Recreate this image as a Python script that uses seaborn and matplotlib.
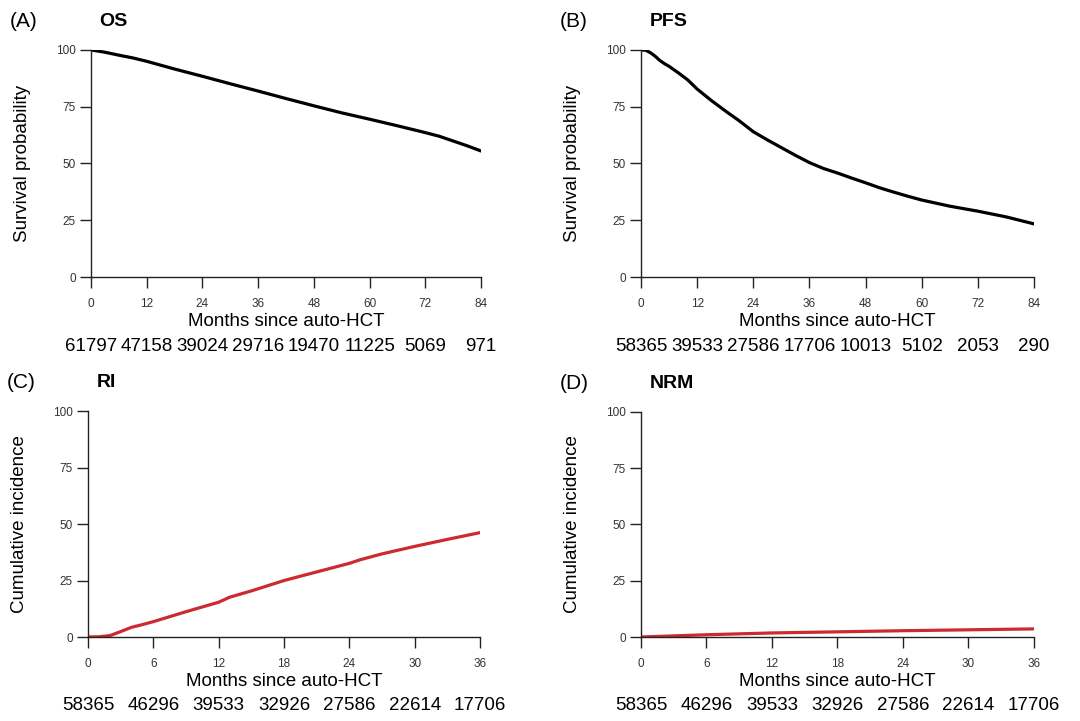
import numpy as np
import pandas as pd
import matplotlib
matplotlib.use("Agg")
import matplotlib.pyplot as plt
import seaborn as sns

sns.set_style("ticks")
plt.rcParams["font.family"] = ["Liberation Sans", "DejaVu Sans"]
plt.rcParams["text.color"] = "black"
plt.rcParams["axes.labelcolor"] = "black"

# OS / PFS (months 0-84)
os_months = [0, 3, 6, 9, 12, 18, 24, 30, 36, 42, 48, 54, 60, 66, 72, 75, 78, 81, 84]
os_surv = [100, 99.0, 97.7, 96.5, 95.0, 91.6, 88.4, 85.1, 81.9, 78.6, 75.4, 72.3, 69.5, 66.6, 63.6, 62.0, 59.9, 57.8, 55.5]
os_risk = [61797, 47158, 39024, 29716, 19470, 11225, 5069, 971]

pfs_months = [0, 1, 2, 3, 4, 5, 6, 8, 10, 12, 15, 18, 21, 24, 27, 30, 33, 36, 39, 42, 45, 48, 51, 54, 57, 60, 66, 72, 78, 84]
pfs_surv = [100, 99.9, 98.8, 97.3, 95.4, 94.0, 92.8, 89.9, 86.8, 82.8, 77.8, 73.2, 68.8, 64.0, 60.4, 57.0, 53.6, 50.4, 47.8, 45.8, 43.6, 41.5, 39.3, 37.4, 35.6, 33.9, 31.2, 29.0, 26.5, 23.4]
pfs_risk = [58365, 39533, 27586, 17706, 10013, 5102, 2053, 290]

# RI / NRM (months 0-36)
ri_months = [0, 1, 2, 3, 4, 5, 6, 9, 12, 13, 15, 18, 21, 24, 25, 27, 30, 33, 36]
ri_inc = [0, 0.1, 0.6, 2.4, 4.3, 5.5, 6.8, 11.2, 15.4, 17.6, 20.4, 25.0, 28.8, 32.6, 34.2, 36.8, 40.1, 43.2, 46.2]
nrm_months = [0, 6, 12, 18, 24, 30, 36]
nrm_inc = [0, 1.0, 1.8, 2.3, 2.8, 3.2, 3.6]
cr_risk = [58365, 46296, 39533, 32926, 27586, 22614, 17706]

fig = plt.figure(figsize=(10.8, 7.21), dpi=100)

panels = [
    ("(A)", "OS", os_months, os_surv, os_risk, 84, 12, "Survival probability", "black", [0.0843, 0.6158, 0.3611, 0.3149]),
    ("(B)", "PFS", pfs_months, pfs_surv, pfs_risk, 84, 12, "Survival probability", "black", [0.5935, 0.6158, 0.3639, 0.3149]),
    ("(C)", "RI", ri_months, ri_inc, cr_risk, 36, 6, "Cumulative incidence", "#cc2a2e", [0.0815, 0.1165, 0.3630, 0.3134]),
    ("(D)", "NRM", nrm_months, nrm_inc, cr_risk, 36, 6, "Cumulative incidence", "#cc2a2e", [0.5935, 0.1165, 0.3639, 0.3121]),
]

for tag, title, xs, ys, risk, xmax, step, ylab, col, pos in panels:
    ax = fig.add_axes(pos)
    df = pd.DataFrame({"month": xs, "value": ys})
    sns.lineplot(data=df, x="month", y="value", ax=ax, color=col, linewidth=2.3)
    ax.set_xlim(0, xmax)
    ax.set_ylim(0, 100)
    ticks = np.arange(0, xmax + 1, step)
    ax.set_xticks(ticks)
    ax.set_yticks([0, 25, 50, 75, 100])
    ax.tick_params(axis="both", labelsize=8.5, labelcolor="#333333", color="#222222",
                   length=8, width=1, direction="out", pad=3)
    ax.tick_params(axis="x", pad=7)
    for s in ["top", "right"]:
        ax.spines[s].set_visible(False)
    for s in ["left", "bottom"]:
        ax.spines[s].set_linewidth(1)
        ax.spines[s].set_color("#222222")
    ax.set_xlabel("Months since auto-HCT", fontsize=13.5, labelpad=2)
    ax.set_ylabel(ylab, fontsize=13.5, labelpad=18)
    # numbers at risk
    for t, n in zip(ticks, risk):
        ax.text(t, -30.5, str(n), transform=ax.transData, ha="center", va="center", fontsize=13.5)
    # panel tag and title
    bbox = ax.get_position()
    fig.text(bbox.x0 - 0.075, bbox.y1 + 0.039, tag, fontsize=15, ha="left", va="center")
    fig.text(bbox.x0 + 0.008, bbox.y1 + 0.039, title, fontsize=14, fontweight="bold", ha="left", va="center")

fig.savefig("out.png", dpi=100)
